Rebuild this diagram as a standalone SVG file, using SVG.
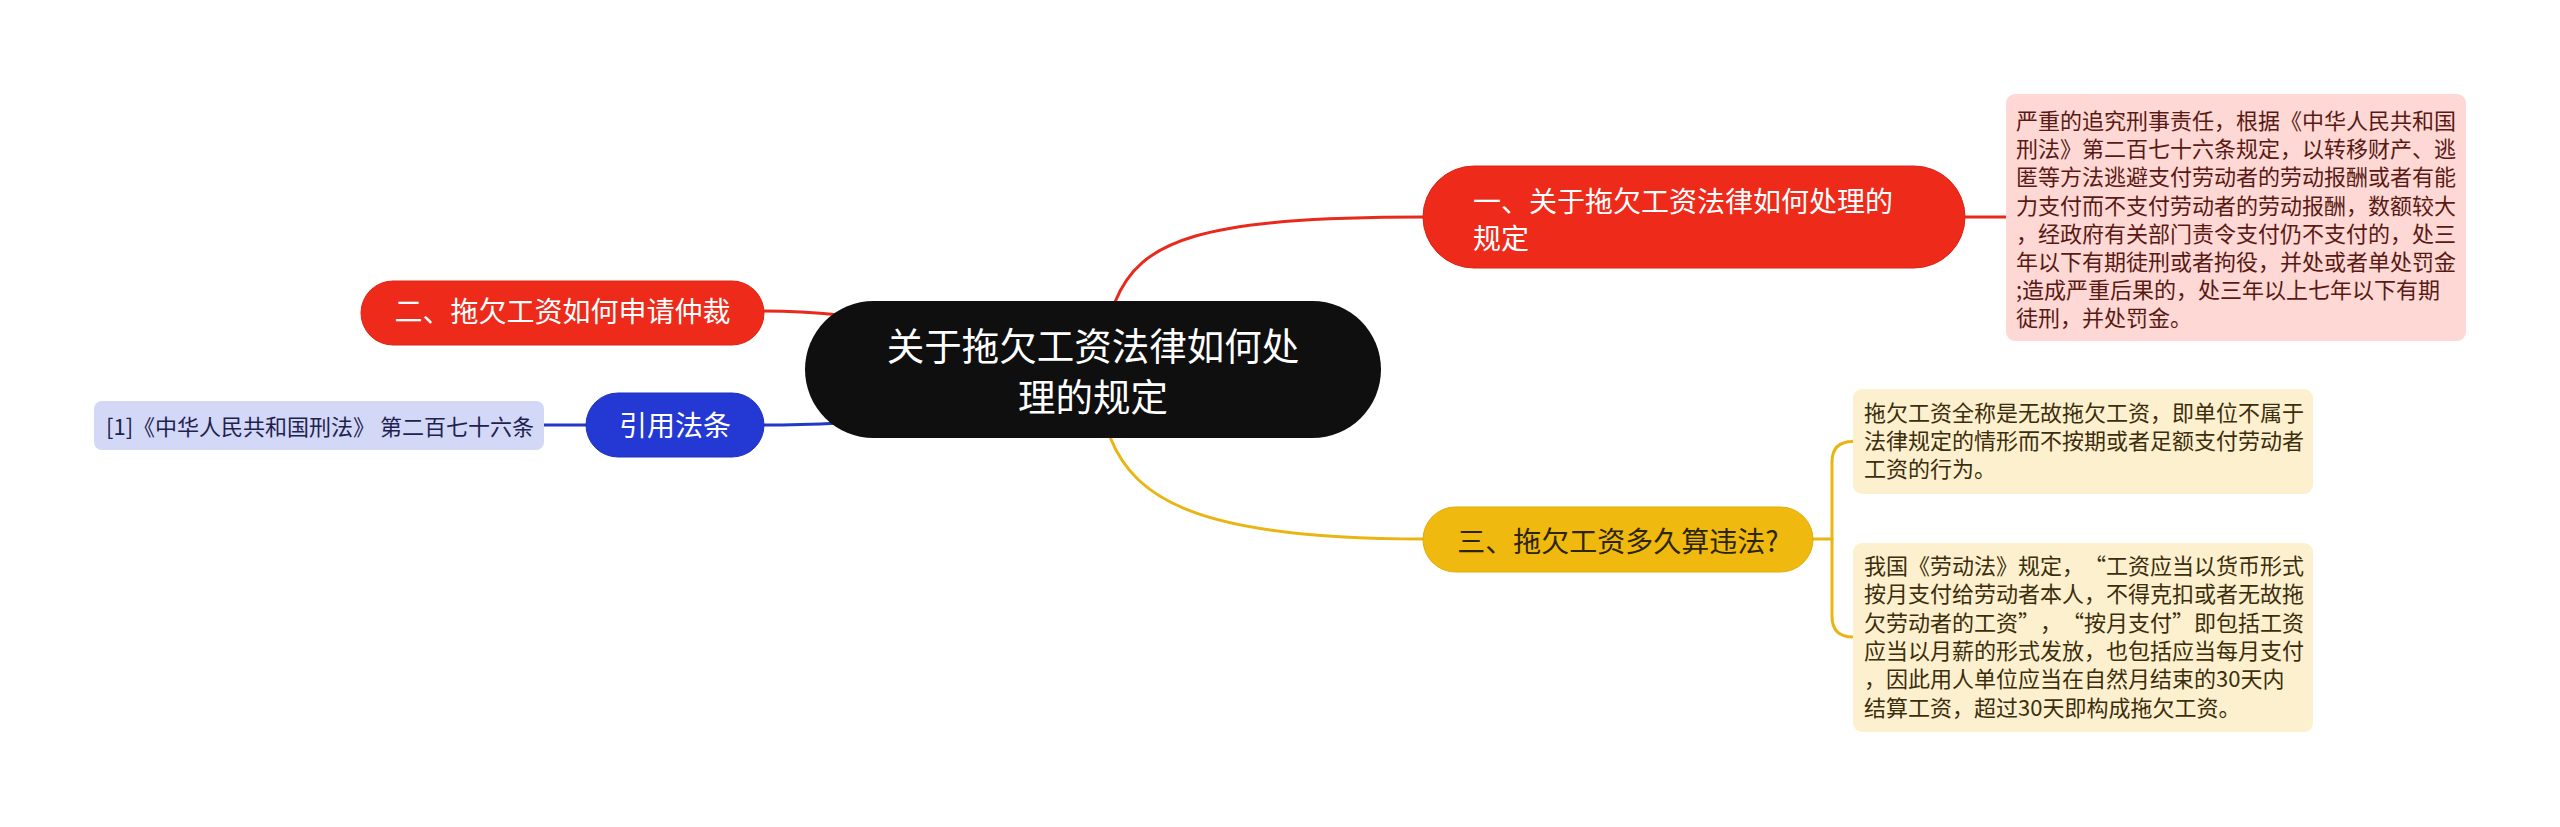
<svg xmlns="http://www.w3.org/2000/svg" width="2560" height="827" viewBox="0 0 2560 827">
<style>
text{font-family:"Noto Sans CJK SC","Noto Sans",sans-serif;}
.c{fill:none;stroke-width:3;stroke-linecap:round}
.r{stroke:#e8291c}.b{stroke:#2438c8}.y{stroke:#e9b512}
.t28{font-size:28px}
.t22{font-size:22px}
.w{fill:#ffffff}
.pk{fill:#5a1a14}.yt{fill:#3b2e0c}.bt{fill:#1e2250}
</style>
<rect width="2560" height="827" fill="#ffffff"/>
<g id="connectors">
<path class="c r" d="M1115,302 C1140,240 1200,217 1423,217"/>
<path class="c r" d="M1965,217 L2006,217"/>
<path class="c r" d="M764,311 Q800,311 840,315"/>
<path class="c b" d="M764,425 Q800,425 840,423"/>
<path class="c b" d="M544,425 L586,425"/>
<path class="c y" d="M1110,437 C1135,500 1200,539 1423,539"/>
<path class="c y" d="M1813,539 L1832,539"/>
<path class="c y" d="M1853,441.5 Q1832,441.5 1832,462 L1832,616 Q1832,637 1853,637"/>
</g>
<g id="central">
<rect x="805" y="301" width="576" height="137" rx="68.5" fill="#0f0f0f"/>
<text text-anchor="middle" font-size="37.5" class="w"><tspan x="1093" y="359.5">关于拖欠工资法律如何处</tspan><tspan x="1093" y="410.5">理的规定</tspan></text>
</g>
<g id="node1">
<rect x="1423" y="166" width="542" height="102" rx="51" fill="#ee2a1a" stroke="#dc2415" stroke-width="1"/>
<text class="t28 w"><tspan x="1473" y="212">一、关于拖欠工资法律如何处理的</tspan><tspan x="1473" y="248.5">规定</tspan></text>
</g>
<g id="detail1">
<rect x="2006" y="94" width="460" height="247" rx="9" fill="#fdd8d5"/>
<text class="t22 pk"><tspan x="2016" y="128.8">严重的追究刑事责任，根据《中华人民共和国</tspan><tspan x="2016" y="157">刑法》第二百七十六条规定，以转移财产、逃</tspan><tspan x="2016" y="185.3">匿等方法逃避支付劳动者的劳动报酬或者有能</tspan><tspan x="2016" y="213.5">力支付而不支付劳动者的劳动报酬，数额较大</tspan><tspan x="2016" y="241.7">，经政府有关部门责令支付仍不支付的，处三</tspan><tspan x="2016" y="270">年以下有期徒刑或者拘役，并处或者单处罚金</tspan><tspan x="2016" y="298.2">;造成严重后果的，处三年以上七年以下有期</tspan><tspan x="2016" y="326.4">徒刑，并处罚金。</tspan></text>
</g>
<g id="node2">
<rect x="361" y="281" width="403" height="64" rx="32" fill="#ee2a1a" stroke="#dc2415" stroke-width="1"/>
<text x="562.5" y="322" text-anchor="middle" class="t28 w">二、拖欠工资如何申请仲裁</text>
</g>
<g id="node-cite">
<rect x="586" y="393" width="178" height="64" rx="32" fill="#2439d4" stroke="#1e30b8" stroke-width="1"/>
<text x="675" y="435.5" text-anchor="middle" class="t28 w">引用法条</text>
</g>
<g id="cite-detail">
<rect x="94" y="401" width="450" height="49" rx="8" fill="#d3d8f6"/>
<text x="106" y="434.8" class="t22 bt">[1]《中华人民共和国刑法》 第二百七十六条</text>
</g>
<g id="node3">
<rect x="1423" y="507" width="390" height="65" rx="32.5" fill="#efb90f" stroke="#e0ab08" stroke-width="1"/>
<text x="1618" y="552" text-anchor="middle" class="t28" fill="#2e2508">三、拖欠工资多久算违法?</text>
</g>
<g id="detail3a">
<rect x="1853" y="389" width="460" height="105" rx="9" fill="#fdf0cf"/>
<text class="t22 yt"><tspan x="1864" y="420.8">拖欠工资全称是无故拖欠工资，即单位不属于</tspan><tspan x="1864" y="449.1">法律规定的情形而不按期或者足额支付劳动者</tspan><tspan x="1864" y="477.4">工资的行为。</tspan></text>
</g>
<g id="detail3b">
<rect x="1853" y="543" width="460" height="189" rx="9" fill="#fdf0cf"/>
<text class="t22 yt"><tspan x="1864" y="574.1">我国《劳动法》规定，<tspan dx="11">“</tspan>工资应当以货币形式</tspan><tspan x="1864" y="602.4">按月支付给劳动者本人，不得克扣或者无故拖</tspan><tspan x="1864" y="630.7">欠劳动者的工资”<tspan dx="11">，</tspan><tspan dx="11">“</tspan>按月支付”即包括工资</tspan><tspan x="1864" y="659">应当以月薪的形式发放，也包括应当每月支付</tspan><tspan x="1864" y="687.3">，因此用人单位应当在自然月结束的30天内</tspan><tspan x="1864" y="715.6">结算工资，超过30天即构成拖欠工资。</tspan></text>
</g>
</svg>
